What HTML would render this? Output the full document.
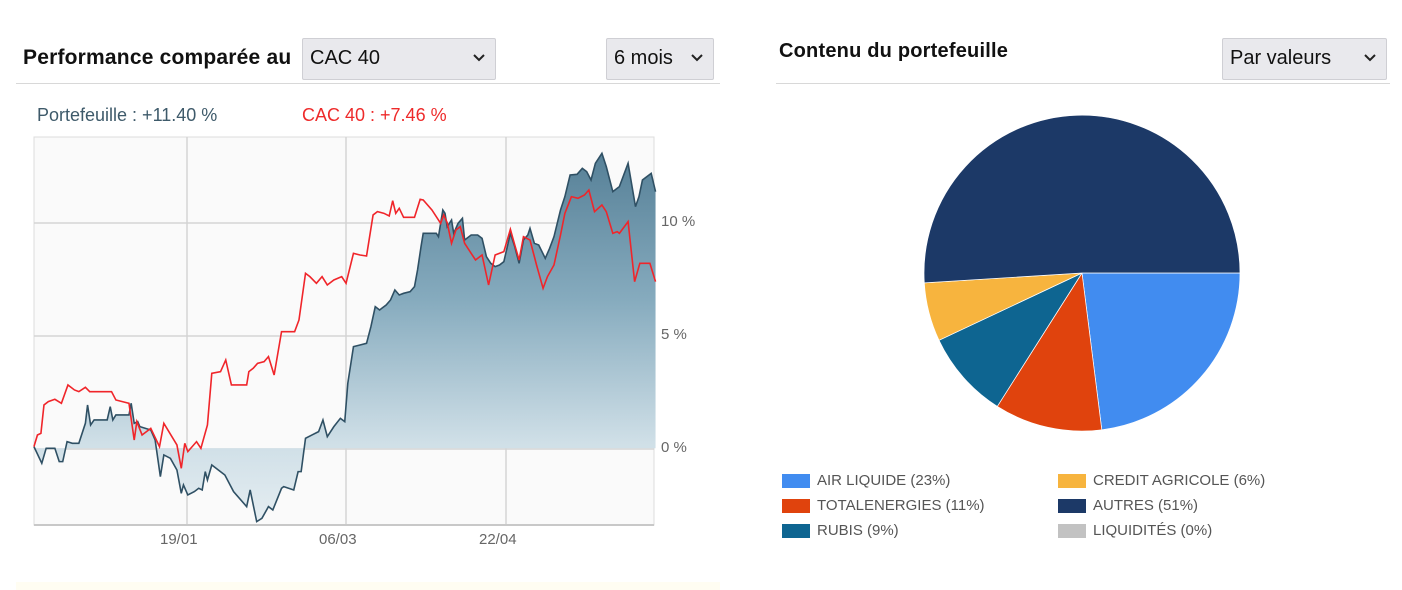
<!DOCTYPE html>
<html><head><meta charset="utf-8"><style>
body{margin:0;width:1402px;height:590px;background:#fff;font-family:"Liberation Sans",sans-serif;position:relative;overflow:hidden}
.a{position:absolute}
.sel{position:absolute;background:#e9e9ed;border:1px solid #cfcfd4;border-radius:2px;font-size:20px;color:#111;box-sizing:border-box;padding:8px 0 0 7px}
.sel svg{position:absolute;right:10px;top:15px}
.h{font-weight:bold;font-size:20px;color:#111;letter-spacing:0.2px}
.lg{position:absolute;font-size:15px;color:#555}
.lg i{position:absolute;left:0;top:1px;width:28px;height:14px}
.lg span{position:absolute;left:35px;top:-1px;white-space:nowrap}
</style></head><body>
<div class="a h" style="left:23px;top:46px;font-size:21px">Performance comparée au</div>
<div class="sel" style="left:302px;top:38px;width:194px;height:42px">CAC 40<svg width="12" height="8"><path d="M1 1L6 6L11 1" stroke="#222" stroke-width="2" fill="none"/></svg></div>
<div class="sel" style="left:606px;top:38px;width:108px;height:42px">6 mois<svg width="12" height="8"><path d="M1 1L6 6L11 1" stroke="#222" stroke-width="2" fill="none"/></svg></div>
<div class="a" style="left:16px;top:83px;width:704px;height:1px;background:#d8d8d8"></div>
<div class="a" style="left:37px;top:105px;font-size:18px;color:#3e5a6a">Portefeuille : +11.40 %</div>
<div class="a" style="left:302px;top:105px;font-size:18px;color:#ee2a2a">CAC 40 : +7.46 %</div>
<div class="a" style="left:16px;top:582px;width:704px;height:8px;background:#fffdf2"></div>

<svg class="a" style="left:0;top:0" width="720" height="590">
<defs><linearGradient id="g" gradientUnits="userSpaceOnUse" x1="0" y1="60" x2="0" y2="1185">
<stop offset="0" stop-color="#557f96"/><stop offset="0.4" stop-color="#86abbe"/><stop offset="0.78" stop-color="#cfdfe7"/><stop offset="1" stop-color="#e6eef2"/></linearGradient></defs>
<rect x="34" y="137" width="620" height="388" fill="#fafafa" stroke="#dcdcdc"/>
<g stroke="#d4d4d4" stroke-width="1.5">
<line x1="34" y1="223" x2="654" y2="223"/><line x1="34" y1="336" x2="654" y2="336"/><line x1="34" y1="449" x2="654" y2="449"/>
<line x1="187" y1="137" x2="187" y2="525"/><line x1="346" y1="137" x2="346" y2="525"/><line x1="506" y1="137" x2="506" y2="525"/>
<line x1="34" y1="525" x2="654" y2="525" stroke="#c8c8c8" stroke-width="2"/>
</g>
<g transform="translate(20,130) scale(0.4359,0.3333)">
<path fill="url(#g)" stroke="none" d="M32,955 L32,950 50,1000 60,955 80,955 90,995 98,995 108,935 120,940 135,940 150,880 155,825 162,885 170,870 200,870 207,830 213,870 220,855 250,855 255,820 262,880 270,875 275,890 300,900 310,930 322,1040 330,975 345,985 360,1020 370,1090 375,1065 385,1095 400,1085 410,1075 418,1080 425,1025 430,1050 440,1005 470,1035 490,1085 520,1130 528,1080 543,1175 555,1165 570,1130 580,1140 600,1075 605,1070 628,1080 638,1025 645,1025 655,925 670,915 685,905 695,870 705,920 720,890 735,865 745,875 752,760 765,650 780,645 795,640 805,590 815,530 825,540 840,525 850,510 860,480 870,495 880,490 895,485 905,470 912,420 920,350 925,310 955,310 960,320 970,240 975,250 980,290 990,270 995,310 1005,280 1015,265 1020,330 1035,315 1050,315 1060,325 1070,380 1080,400 1090,410 1100,405 1110,395 1125,310 1135,350 1145,400 1155,330 1165,315 1170,295 1180,340 1190,345 1205,385 1215,355 1225,320 1240,240 1250,200 1262,135 1278,133 1290,115 1300,125 1310,150 1320,100 1335,70 1345,110 1360,185 1375,170 1395,100 1412,230 1420,200 1428,150 1448,130 1458,185 L1458,955 Z"/>
<path fill="none" stroke="#2f5064" stroke-width="1.6" vector-effect="non-scaling-stroke" d="M32,950 50,1000 60,955 80,955 90,995 98,995 108,935 120,940 135,940 150,880 155,825 162,885 170,870 200,870 207,830 213,870 220,855 250,855 255,820 262,880 270,875 275,890 300,900 310,930 322,1040 330,975 345,985 360,1020 370,1090 375,1065 385,1095 400,1085 410,1075 418,1080 425,1025 430,1050 440,1005 470,1035 490,1085 520,1130 528,1080 543,1175 555,1165 570,1130 580,1140 600,1075 605,1070 628,1080 638,1025 645,1025 655,925 670,915 685,905 695,870 705,920 720,890 735,865 745,875 752,760 765,650 780,645 795,640 805,590 815,530 825,540 840,525 850,510 860,480 870,495 880,490 895,485 905,470 912,420 920,350 925,310 955,310 960,320 970,240 975,250 980,290 990,270 995,310 1005,280 1015,265 1020,330 1035,315 1050,315 1060,325 1070,380 1080,400 1090,410 1100,405 1110,395 1125,310 1135,350 1145,400 1155,330 1165,315 1170,295 1180,340 1190,345 1205,385 1215,355 1225,320 1240,240 1250,200 1262,135 1278,133 1290,115 1300,125 1310,150 1320,100 1335,70 1345,110 1360,185 1375,170 1395,100 1412,230 1420,200 1428,150 1448,130 1458,185"/>
<path fill="none" stroke="#f0252a" stroke-width="1.6" vector-effect="non-scaling-stroke" d="M32,950 40,915 48,910 55,825 65,815 80,808 95,820 110,765 125,780 135,785 150,772 160,785 180,785 210,785 220,810 250,820 262,930 268,875 280,915 300,895 320,950 330,880 360,945 370,1015 378,940 385,965 405,935 415,955 430,885 440,730 460,725 472,690 485,765 520,765 525,725 535,715 545,700 560,695 570,680 583,735 600,605 630,605 640,570 655,430 665,440 680,460 693,440 705,465 720,450 738,440 748,460 765,370 780,375 795,378 810,255 820,245 835,250 847,258 855,212 862,250 870,235 880,262 905,262 918,208 925,210 945,240 965,280 972,255 980,278 990,340 1000,300 1010,290 1020,340 1045,390 1060,375 1075,465 1090,375 1110,365 1125,298 1135,345 1145,390 1155,320 1170,330 1185,405 1200,475 1210,440 1225,405 1240,315 1250,250 1265,200 1280,205 1295,195 1305,180 1318,245 1335,225 1345,245 1360,310 1370,305 1375,310 1395,275 1410,455 1422,400 1445,400 1458,455"/>
</g>
<g font-size="15" fill="#666">
<text x="661" y="226">10 %</text><text x="661" y="339">5 %</text><text x="661" y="452">0 %</text>
<text x="160" y="544">19/01</text><text x="319" y="544">06/03</text><text x="479" y="544">22/04</text>
</g>
</svg>

<div class="a h" style="left:779px;top:40px">Contenu du portefeuille</div>
<div class="sel" style="left:1222px;top:38px;width:165px;height:42px">Par valeurs<svg width="12" height="8"><path d="M1 1L6 6L11 1" stroke="#222" stroke-width="2" fill="none"/></svg></div>
<div class="a" style="left:776px;top:83px;width:614px;height:1px;background:#d8d8d8"></div>
<svg class="a" style="left:0;top:0" width="1402" height="590">
<g stroke="#fff" stroke-width="0.7">
<path d="M1082,273 L1240,273 A158,158 0 0 1 1101.8,429.8 Z" fill="#418cf0"/>
<path d="M1082,273 L1101.8,429.8 A158,158 0 0 1 997.3,406.4 Z" fill="#e0430d"/>
<path d="M1082,273 L997.3,406.4 A158,158 0 0 1 939,340.3 Z" fill="#0e6591"/>
<path d="M1082,273 L939,340.3 A158,158 0 0 1 924.3,282.9 Z" fill="#f7b43e"/>
<path d="M1082,273 L924.3,282.9 A158,158 0 1 1 1240,273 Z" fill="#1c3967"/>
</g></svg>
<div class="lg" style="left:782px;top:473px"><i style="background:#418cf0"></i><span>AIR LIQUIDE (23%)</span></div>
<div class="lg" style="left:782px;top:498px"><i style="background:#e0430d"></i><span>TOTALENERGIES (11%)</span></div>
<div class="lg" style="left:782px;top:523px"><i style="background:#0e6591"></i><span>RUBIS (9%)</span></div>
<div class="lg" style="left:1058px;top:473px"><i style="background:#f7b43e"></i><span>CREDIT AGRICOLE (6%)</span></div>
<div class="lg" style="left:1058px;top:498px"><i style="background:#1c3967"></i><span>AUTRES (51%)</span></div>
<div class="lg" style="left:1058px;top:523px"><i style="background:#c2c2c2"></i><span>LIQUIDITÉS (0%)</span></div>
</body></html>
